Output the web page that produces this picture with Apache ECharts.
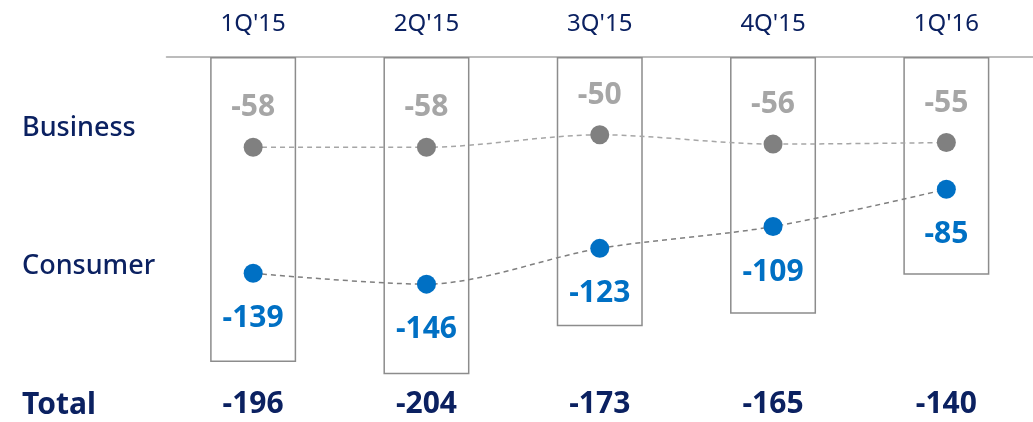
<!DOCTYPE html>
<html>
<head>
<meta charset="utf-8">
<script src="https://cdn.jsdelivr.net/npm/echarts@6/dist/echarts.min.js"></script>
<style>
  html, body { margin: 0; padding: 0; background: #fff; }
  #chart { width: 1033px; height: 422px; }
</style>
</head>
<body>
<div id="chart"></div>
<script>
var quarters = ["1Q'15", "2Q'15", "3Q'15", "4Q'15", "1Q'16"]
var business = [-58, -58, -50, -56, -55]
var consumer = [-139, -146, -123, -109, -85]
var totals = [-196, -204, -173, -165, -140]
var rowNames = ['Business', 'Consumer', 'Total']

var NAVY = '#0b2161'
var BLUE = '#0070c4'
var FONT = 'Noto Sans'

function rowLabel(text, y, weight, size) {
  return {
    type: 'text',
    style: { x: 22, y: y, text: text, fill: NAVY, fontSize: size, fontWeight: weight, fontFamily: FONT, verticalAlign: 'middle' }
  }
}

var chart = echarts.init(document.getElementById('chart'))
chart.setOption({
  animation: false,
  textStyle: { fontFamily: FONT },
  grid: { left: 166.5, right: -4, top: 57, bottom: 38.3 },
  xAxis: [
    {
      type: 'category',
      position: 'top',
      data: quarters,
      axisLine: { lineStyle: { color: '#a6a6a6', width: 1.5 } },
      axisTick: { show: false },
      axisLabel: { color: NAVY, fontSize: 24, margin: 21, fontFamily: FONT }
    },
    {
      type: 'category',
      position: 'bottom',
      data: quarters,
      axisLine: { show: false },
      axisTick: { show: false },
      axisLabel: {
        color: NAVY, fontSize: 30, fontWeight: 'bold', margin: 6, fontFamily: FONT,
        formatter: function (v, i) { return String(totals[i]) }
      }
    }
  ],
  yAxis: {
    type: 'value',
    min: -210,
    max: 0,
    show: false,
    splitLine: { show: false }
  },
  graphic: [
    rowLabel(rowNames[0], 128, 500, 27),
    rowLabel(rowNames[1], 266, 500, 27),
    rowLabel(rowNames[2], 405, 'bold', 30)
  ],
  series: [
    {
      name: 'Total',
      type: 'bar',
      xAxisIndex: 0,
      barWidth: 86,
      data: totals,
      z: 1,
      itemStyle: { color: 'rgba(0,0,0,0)', borderColor: '#8c8c8c', borderWidth: 1.5 },
      emphasis: { disabled: true }
    },
    {
      name: 'Business',
      type: 'line',
      xAxisIndex: 0,
      data: business,
      smooth: 0.3,
      symbol: 'circle',
      symbolSize: 19,
      z: 3,
      itemStyle: { color: '#808080' },
      lineStyle: { color: '#a6a6a6', width: 1.5, type: [5, 4] },
      label: {
        show: true, position: 'top', distance: 15,
        color: '#a6a6a6', fontSize: 30, fontWeight: 'bold', fontFamily: FONT
      }
    },
    {
      name: 'Consumer',
      type: 'line',
      xAxisIndex: 0,
      data: consumer,
      smooth: 0.3,
      symbol: 'circle',
      symbolSize: 19,
      z: 3,
      itemStyle: { color: BLUE },
      lineStyle: { color: '#7f7f7f', width: 1.5, type: [5, 4] },
      label: {
        show: true, position: 'bottom', distance: 21,
        color: BLUE, fontSize: 30, fontWeight: 'bold', fontFamily: FONT
      }
    }
  ]
})
</script>
</body>
</html>
